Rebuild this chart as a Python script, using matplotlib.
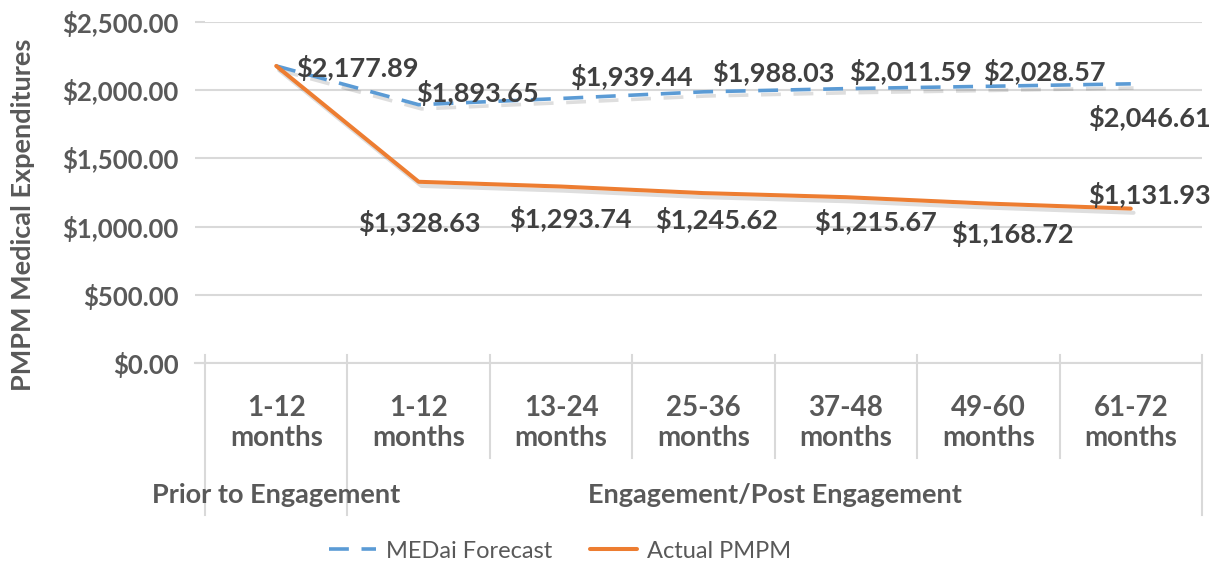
import matplotlib
matplotlib.use("Agg")
import matplotlib.pyplot as plt
import matplotlib.patheffects as pe
from matplotlib.transforms import blended_transform_factory

plt.rcParams['font.family'] = ['Lato', 'DejaVu Sans']

periods = ['1-12\nmonths', '1-12\nmonths', '13-24\nmonths', '25-36\nmonths',
           '37-48\nmonths', '49-60\nmonths', '61-72\nmonths']
groups = ['Prior to Engagement', 'Engagement/Post Engagement']
group_sizes = [1, 6]
forecast = [2177.89, 1893.65, 1939.44, 1988.03, 2011.59, 2028.57, 2046.61]
actual = [2177.89, 1328.63, 1293.74, 1245.62, 1215.67, 1168.72, 1131.93]

# label offsets in pixels (Excel placed them a bit all over the place)
fc_off = [(81, -2), (59, 12), (70, 21), (70, 19), (65, 17), (56, 14), (19, -34)]
ac_off = [None, (1, -41), (9, -32), (13, -27), (30, -25), (24, -30), (19, 14)]

blue = '#5B9BD5'
orange = '#ED7D31'
grey = '#595959'
dark = '#404040'
gridc = '#D9D9D9'

fig = plt.figure(figsize=(12.2, 5.65), dpi=100)
ax = fig.add_axes([205 / 1220, 202 / 565, 997 / 1220, 341 / 565])

x = list(range(len(periods)))
shadow = [pe.SimpleLineShadow(offset=(2, -3), alpha=0.13, shadow_color='k'), pe.Normal()]
l1, = ax.plot(x, forecast, color=blue, lw=2.6, dashes=(5.5, 3.5), label='MEDai Forecast',
              path_effects=shadow, zorder=3)
l2, = ax.plot(x, actual, color=orange, lw=2.9, label='Actual PMPM',
              path_effects=shadow, zorder=4, solid_capstyle='round')

for i, v in enumerate(forecast):
    ax.annotate('${:,.2f}'.format(v), (i, v), xytext=fc_off[i], textcoords='offset pixels',
                ha='center', va='center', fontsize=19.5, fontweight='bold', color=dark, zorder=5)
for i, v in enumerate(actual):
    if ac_off[i] is None:
        continue
    ax.annotate('${:,.2f}'.format(v), (i, v), xytext=ac_off[i], textcoords='offset pixels',
                ha='center', va='center', fontsize=19.5, fontweight='bold', color=dark, zorder=5)

ax.set_xlim(-0.5, len(periods) - 0.5)
ax.set_ylim(0, 2500)
ax.set_yticks([0, 500, 1000, 1500, 2000, 2500])
ax.set_yticklabels(['${:,.2f}'.format(t) for t in [0, 500, 1000, 1500, 2000, 2500]])
ax.yaxis.grid(True, color=gridc, lw=1.5)
ax.set_axisbelow(True)
ax.tick_params(axis='y', length=7, width=1.5, color=gridc, pad=12, labelsize=18.5,
               labelcolor=grey)
for lab in ax.get_yticklabels():
    lab.set_fontweight('bold')
ax.set_xticks([])
for s in ['top', 'right', 'left']:
    ax.spines[s].set_visible(False)
ax.spines['bottom'].set_color(gridc)
ax.spines['bottom'].set_linewidth(1.5)

ax.set_ylabel('PMPM Medical Expenditures', fontsize=19.5, fontweight='bold', color=grey)
ax.yaxis.set_label_coords(-0.1705, 0.434)

# multi-level category axis
tr = blended_transform_factory(ax.transData, ax.transAxes)
for i, p in enumerate(periods):
    ax.text(i, -0.175, p, transform=tr, ha='center', va='center', fontsize=20,
            fontweight='bold', color=grey, linespacing=1.2)
bounds = [-0.5]
for g in group_sizes:
    bounds.append(bounds[-1] + g)
for b in [i - 0.5 for i in range(len(periods) + 1)]:
    low = -0.4457 if b in bounds else -0.2786
    ax.plot([b, b], [0.0235, low], transform=tr, color=gridc, lw=1.5, clip_on=False)
ax.plot([-0.5 - 0.07, -0.5], [0, 0], transform=tr, color=gridc, lw=1.5, clip_on=False)
for g, a, b in zip(groups, bounds[:-1], bounds[1:]):
    ax.text((a + b) / 2, -0.387, g, transform=tr, ha='center', va='center', fontsize=19.5,
            fontweight='bold', color=grey)

leg = fig.legend(loc='center', bbox_to_anchor=(560 / 1220, 14 / 565), ncol=2, frameon=False,
                 fontsize=17, handlelength=2.0, columnspacing=1.6, handletextpad=0.4)
for t in leg.get_texts():
    t.set_color(grey)
for h in leg.legend_handles:
    h.set_path_effects([])

fig.savefig('out.png', dpi=100)
